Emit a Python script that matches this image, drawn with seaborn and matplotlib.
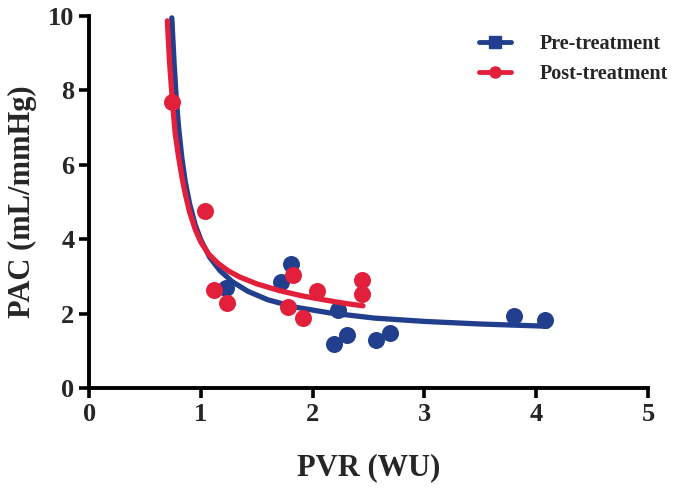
import numpy as np
import pandas as pd
import seaborn as sns
import matplotlib.pyplot as plt
from matplotlib.lines import Line2D

# pontos medidos (PVR x PAC)
pre_pvr = [1.225, 1.72, 1.81, 2.23, 2.19, 2.31, 2.57, 2.69, 3.80, 4.08]
pre_pac = [2.68, 2.85, 3.32, 2.10, 1.17, 1.42, 1.28, 1.49, 1.93, 1.82]
post_pvr = [0.745, 1.04, 1.12, 1.23, 1.78, 1.82, 1.91, 2.04, 2.44, 2.44]
post_pac = [7.68, 4.77, 2.63, 2.29, 2.17, 3.05, 1.88, 2.61, 2.90, 2.52]

# curvas de ajuste
pre_fit_x = [0.74, 0.76, 0.78, 0.80, 0.83, 0.86, 0.90, 0.95, 1.00, 1.08, 1.17, 1.28,
             1.42, 1.60, 1.85, 2.15, 2.55, 3.00, 3.50, 4.10]
pre_fit_y = [9.95, 8.76, 7.78, 7.03, 6.18, 5.55, 4.94, 4.38, 3.98, 3.51, 3.16, 2.86,
             2.60, 2.37, 2.17, 2.02, 1.88, 1.79, 1.72, 1.66]
post_fit_x = [0.70, 0.72, 0.745, 0.77, 0.80, 0.83, 0.86, 0.90, 0.95, 1.00, 1.07, 1.15,
              1.25, 1.35, 1.50, 1.70, 1.90, 2.10, 2.30, 2.45]
post_fit_y = [9.87, 8.75, 7.72, 6.85, 6.22, 5.68, 5.22, 4.72, 4.26, 3.92, 3.60, 3.36,
              3.14, 2.98, 2.80, 2.62, 2.48, 2.37, 2.27, 2.21]

labels = ['Pre-treatment', 'Post-treatment']
blue = '#213f8c'
red = '#e3203b'

sns.set_style('ticks')
plt.rcParams['font.family'] = ['Liberation Serif', 'DejaVu Serif']
plt.rcParams['font.weight'] = 'bold'

fig = plt.figure(figsize=(6.8, 4.93), dpi=100)
ax = fig.add_axes([0.131, 0.213, 0.822, 0.7545])

pre = pd.DataFrame({'pvr': pre_pvr, 'pac': pre_pac})
post = pd.DataFrame({'pvr': post_pvr, 'pac': post_pac})
pre_fit = pd.DataFrame({'pvr': pre_fit_x, 'pac': pre_fit_y})
post_fit = pd.DataFrame({'pvr': post_fit_x, 'pac': post_fit_y})

sns.scatterplot(data=pre, x='pvr', y='pac', ax=ax, color=blue, s=150, linewidth=0, zorder=3)
sns.lineplot(data=pre_fit, x='pvr', y='pac', ax=ax, color=blue, linewidth=3.8,
             sort=False, zorder=4)
sns.scatterplot(data=post, x='pvr', y='pac', ax=ax, color=red, s=150, linewidth=0, zorder=5)
sns.lineplot(data=post_fit, x='pvr', y='pac', ax=ax, color=red, linewidth=3.8,
             sort=False, zorder=6)
for ln in ax.lines:
    ln.set_clip_on(False)
    ln.set_solid_capstyle('round')

ax.set_xlim(0, 5)
ax.set_ylim(0, 10)
ax.set_xticks([0, 1, 2, 3, 4, 5])
ax.set_yticks([0, 2, 4, 6, 8, 10])
ax.tick_params(axis='both', labelsize=19, width=2.6, length=7, color='black')
for lab in ax.get_xticklabels() + ax.get_yticklabels():
    lab.set_fontweight('bold')
for side in ['left', 'bottom']:
    ax.spines[side].set_linewidth(2.8)
    ax.spines[side].set_color('black')
sns.despine(ax=ax)

ax.set_xlabel('PVR (WU)', fontsize=22, fontweight='bold', labelpad=20)
ax.set_ylabel('PAC (mL/mmHg)', fontsize=22, fontweight='bold', labelpad=8)

handles = [Line2D([], [], color=blue, lw=3.5, marker='s', markersize=8),
           Line2D([], [], color=red, lw=3.5, marker='o', markersize=8)]
ax.legend(handles, labels, loc='upper left', bbox_to_anchor=(0.665, 1.0), frameon=False,
          prop={'size': 14.5, 'weight': 'bold'}, handlelength=1.6, labelspacing=0.5,
          handletextpad=1.4)

fig.savefig('out.png', dpi=100)
